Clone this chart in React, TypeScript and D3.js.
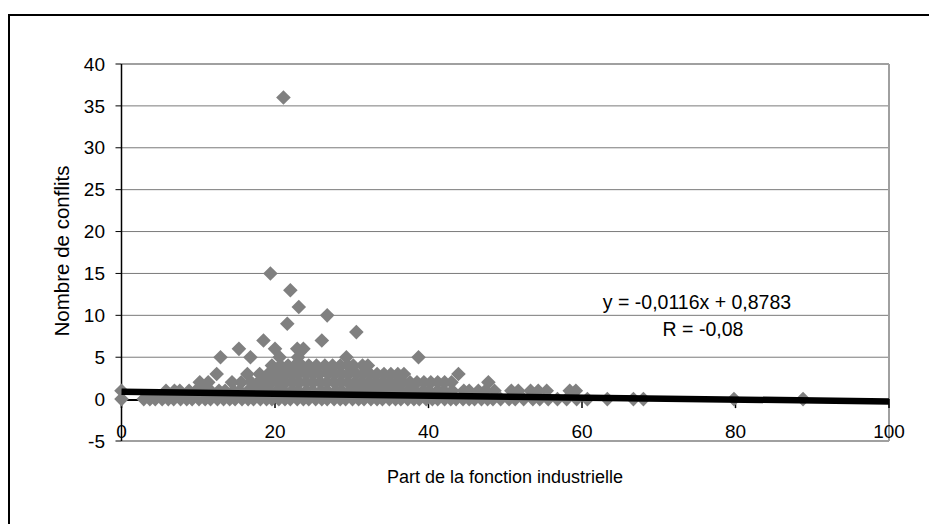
import React from "react";
import * as d3 from "d3";

// x = part de la fonction industrielle, grouped by number of conflicts
const row0 = [0, 2.9, 3.7, 4.4, 5.3, 6.1, 6.8, 7.7, 8.5, 9.2, 10.1, 10.9, 11.6, 12.5, 13.3, 14.1, 14.8, 15.7, 16.5, 17.2, 18.1, 18.9, 19.6, 20.5, 21.3, 22.0, 22.9, 23.7, 24.4, 25.3, 26.1, 26.8, 27.7, 28.5, 29.2, 30.1, 30.9, 31.6, 32.5, 33.3, 34.0, 34.9, 35.7, 36.4, 37.3, 38.1, 38.8, 39.7, 40.5, 41.2, 42.1, 42.9, 43.6, 44.5, 45.3, 46.0, 46.9, 47.7, 48.4, 49.4, 50.5, 51.3, 52.4, 53.6, 54.5, 55.6, 56.8, 58.0, 59.3, 60.7, 63.3, 66.7, 68.0, 79.8, 88.8];
const row1 = [0, 5.8, 6.9, 7.6, 8.8, 9.7, 10.8, 11.6, 12.7, 13.5, 14.6, 15.4, 16.5, 17.3, 18.4, 19.2, 20.3, 21.1, 22.2, 23.0, 24.1, 24.9, 26.0, 26.8, 27.9, 28.7, 29.8, 30.6, 31.7, 32.5, 33.6, 34.4, 35.5, 36.3, 37.4, 38.2, 39.3, 40.1, 41.2, 42.0, 43.1, 44.6, 45.3, 46.5, 47.4, 48.6, 50.8, 51.7, 53.3, 54.3, 55.4, 58.4, 59.2];
const row2 = [10.2, 11.3, 14.4, 15.6, 16.9, 17.8, 18.7, 19.6, 20.5, 21.4, 22.3, 23.2, 24.1, 25.0, 25.9, 26.8, 27.7, 28.6, 29.5, 30.4, 31.3, 32.2, 33.1, 34.0, 34.9, 35.8, 36.7, 37.6, 38.5, 39.4, 40.3, 41.2, 42.1, 43.0, 47.8];
const row3 = [12.4, 16.4, 18.0, 19.1, 20.2, 21.2, 22.1, 23.0, 24.0, 24.9, 25.8, 26.9, 27.8, 28.7, 29.6, 30.6, 31.5, 32.4, 33.3, 34.2, 35.1, 36.0, 36.8, 43.9];
const row4 = [19.6, 20.7, 21.7, 22.6, 23.5, 24.4, 25.4, 26.5, 27.5, 28.5, 29.5, 30.2, 31.4, 32.1];
const outlierX = [12.9, 15.3, 16.8, 18.5, 19.4, 20.0, 20.6, 21.1, 21.6, 22.0, 22.9, 23.0, 23.1, 23.7, 26.1, 26.8, 29.3, 30.6, 38.7];
const outlierY = [5, 6, 5, 7, 15, 6, 5, 36, 9, 13, 6, 5, 11, 6, 7, 10, 5, 8, 5];

const yTicks = [-5, 0, 5, 10, 15, 20, 25, 30, 35, 40];
const xTicks = [0, 20, 40, 60, 80, 100];
const slope = -0.0116;
const intercept = 0.8783;

const font = "Arial, 'Liberation Sans', sans-serif";

export default function App() {
  const x = d3.scaleLinear().domain([0, 100]).range([121.5, 889]);
  const y = d3.scaleLinear().domain([-5, 40]).range([441, 64]);

  const points: [number, number][] = [];
  [row0, row1, row2, row3, row4].forEach((row, i) => row.forEach((v) => points.push([v, i])));
  outlierX.forEach((v, i) => points.push([v, outlierY[i]]));

  const r = 7.3;
  const diamond = (px: number, py: number) =>
    `M${px},${py - r}L${px + r},${py}L${px},${py + r}L${px - r},${py}Z`;

  const trend = d3
    .line<number>()
    .x((d) => x(d))
    .y((d) => y(slope * d + intercept))([0, 100]);

  return (
    <svg width={929} height={524} style={{ position: "absolute", left: 0, top: 0 }}>
      <rect x={0} y={0} width={929} height={524} fill="#fff" />
      <rect x={9} y={15} width={1000} height={1000} fill="none" stroke="#000" strokeWidth={2} />

      {/* grid */}
      {yTicks.slice(1, -1).map((t) => (
        t === 0 ? null : <line key={t} x1={x(0)} x2={x(100)} y1={y(t)} y2={y(t)} stroke="#7a7a7a" strokeWidth={1} />
      ))}
      <line x1={x(0)} x2={x(100)} y1={y(40)} y2={y(40)} stroke="#a0a0a0" strokeWidth={2} />
      <line x1={x(0)} x2={x(100)} y1={y(-5)} y2={y(-5)} stroke="#a0a0a0" strokeWidth={2} />
      <line x1={x(100)} x2={x(100)} y1={y(40)} y2={y(-5)} stroke="#a0a0a0" strokeWidth={2} />

      {/* axes */}
      <line x1={x(0)} x2={x(0)} y1={y(40)} y2={y(-5)} stroke="#000" strokeWidth={1.5} />
      {yTicks.map((t) => (
        <g key={t}>
          <line x1={x(0) - 6} x2={x(0)} y1={y(t)} y2={y(t)} stroke="#000" strokeWidth={1} />
          <text x={105} y={y(t)} dy="0.35em" textAnchor="end" fontFamily={font} fontSize={19}>{t}</text>
        </g>
      ))}
      <line x1={x(0)} x2={x(100)} y1={y(0) + 1} y2={y(0) + 1} stroke="#000" strokeWidth={2} />
      {xTicks.map((t) => (
        <g key={t}>
          <line x1={x(t)} x2={x(t)} y1={y(0)} y2={y(0) + 9} stroke="#000" strokeWidth={1.5} />
          <text x={x(t)} y={438} textAnchor="middle" fontFamily={font} fontSize={19}>{t}</text>
        </g>
      ))}

      {/* points */}
      {points.map(([a, b], i) => (
        <path key={i} d={diamond(x(a), y(b))} fill="#808080" />
      ))}

      {/* trend line */}
      <path d={trend ?? ""} stroke="#000" strokeWidth={6.5} fill="none" />

      <text x={697} y={309} textAnchor="middle" fontFamily={font} fontSize={19.5}>y = -0,0116x + 0,8783</text>
      <text x={703} y={336} textAnchor="middle" fontFamily={font} fontSize={19.5}>R = -0,08</text>

      <text transform="translate(69,251) rotate(-90)" textAnchor="middle" fontFamily={font} fontSize={20.5}>Nombre de conflits</text>
      <text x={505} y={483} textAnchor="middle" fontFamily={font} fontSize={18}>Part de la fonction industrielle</text>
    </svg>
  );
}
